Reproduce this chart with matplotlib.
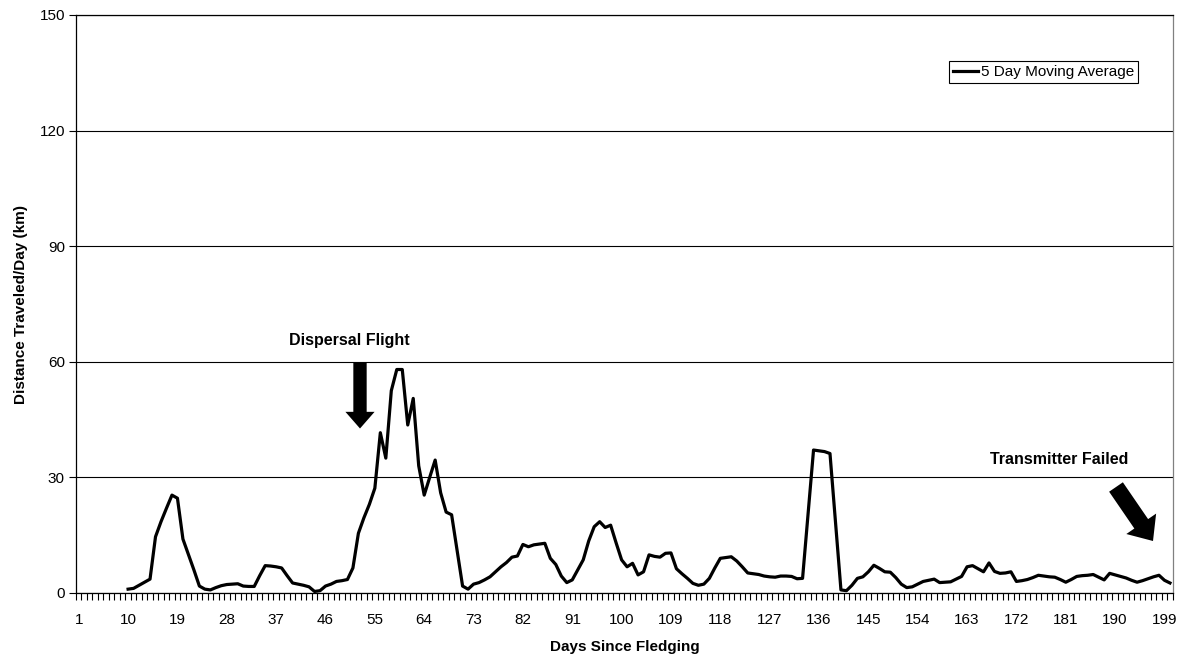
import numpy as np
import matplotlib
matplotlib.use("Agg")
import matplotlib.pyplot as plt

plt.rcParams['font.family'] = ['Liberation Sans', 'DejaVu Sans']

# ---- data ----
n_days = 200
start_day = 10
moving_avg = [
    1.0, 1.2, 2.0, 2.8, 3.6, 14.6, 18.5, 22.0, 25.4, 24.6,   # 10-19
    14.0, 10.0, 6.0, 1.8, 1.0, 0.8, 1.4, 1.9, 2.2, 2.3,      # 20-29
    2.4, 1.8, 1.7, 1.7, 4.5, 7.1, 7.0, 6.8, 6.5, 4.5,        # 30-39
    2.6, 2.3, 2.0, 1.6, 0.4, 0.6, 1.8, 2.3, 3.0, 3.2,        # 40-49
    3.5, 6.5, 15.5, 19.5, 23.0, 27.2, 41.6, 35.0, 52.5, 58.0,  # 50-59
    58.0, 43.6, 50.5, 33.0, 25.4, 30.0, 34.5, 26.0, 21.0, 20.3,  # 60-69
    11.0, 1.8, 1.0, 2.3, 2.7, 3.4, 4.2, 5.5, 6.8, 7.9,       # 70-79
    9.3, 9.6, 12.6, 12.0, 12.5, 12.7, 12.9, 9.0, 7.4, 4.4,   # 80-89
    2.7, 3.4, 6.0, 8.6, 13.5, 17.2, 18.5, 17.0, 17.6, 13.0,  # 90-99
    8.6, 6.8, 7.7, 4.7, 5.5, 9.9, 9.5, 9.3, 10.3, 10.4,      # 100-109
    6.3, 5.0, 3.8, 2.5, 2.0, 2.3, 3.8, 6.5, 9.0, 9.2,        # 110-119
    9.4, 8.3, 6.8, 5.2, 5.0, 4.8, 4.4, 4.2, 4.1, 4.4,        # 120-129
    4.4, 4.3, 3.7, 3.8, 20.4, 37.1, 36.9, 36.7, 36.2, 18.5,  # 130-139
    0.8, 0.6, 2.0, 3.8, 4.2, 5.5, 7.2, 6.4, 5.5, 5.4,        # 140-149
    4.0, 2.3, 1.4, 1.6, 2.3, 3.0, 3.3, 3.6, 2.7, 2.8,        # 150-159
    2.9, 3.6, 4.3, 6.8, 7.1, 6.3, 5.5, 7.8, 5.6, 5.1,        # 160-169
    5.2, 5.5, 3.0, 3.2, 3.5, 4.0, 4.6, 4.4, 4.2, 4.1,        # 170-179
    3.5, 2.8, 3.5, 4.3, 4.5, 4.6, 4.8, 4.1, 3.4, 5.1,        # 180-189
    4.7, 4.3, 3.9, 3.3, 2.8, 3.2, 3.7, 4.2, 4.6, 3.3,        # 190-199
    2.6,                                                       # 200
]
days = list(range(start_day, start_day + len(moving_avg)))
x_tick_labels = list(range(1, n_days + 1, 9))
y_ticks = [0, 30, 60, 90, 120, 150]

# ---- figure ----
W, H = 1185, 660
fig = plt.figure(figsize=(W / 100, H / 100), dpi=100)
ax = fig.add_axes([76 / W, 1 - 593 / H, (1172.7 - 76) / W, (593 - 15) / H])

ax.plot(days, moving_avg, color='black', lw=2.3, solid_joinstyle='round',
        label='5 Day Moving Average', zorder=3)

ax.set_xlim(0.5, n_days + 0.5)
ax.set_ylim(0, 150)
ax.set_yticks(y_ticks)
ax.set_yticklabels([str(t) for t in y_ticks], fontsize=11)
ax.yaxis.grid(True, color='black', lw=0.8)
ax.set_axisbelow(True)

ax.set_xticks(x_tick_labels)
ax.set_xticklabels([str(t) for t in x_tick_labels], fontsize=11)
ax.set_xticks(np.arange(0.5, n_days + 1, 1), minor=True)
ax.tick_params(axis='x', which='major', length=0, pad=14.5)
ax.tick_params(axis='x', which='minor', length=5, width=0.8, direction='out')
ax.tick_params(axis='y', which='major', length=5, width=0.8, direction='out', pad=3)

for s in ['left', 'bottom', 'top']:
    ax.spines[s].set_color('black')
    ax.spines[s].set_linewidth(0.9)
ax.spines['right'].set_color('#808080')
ax.spines['right'].set_linewidth(0.9)

ax.set_xlabel('Days Since Fledging', fontsize=11, fontweight='bold', labelpad=9)
ax.set_ylabel('Distance Traveled/Day (km)', fontsize=11, fontweight='bold', labelpad=8)

# legend
leg = ax.legend(loc='center', bbox_to_anchor=(1043.5 / W, 1 - 72 / H),
                bbox_transform=fig.transFigure, fontsize=11, frameon=True,
                fancybox=False, edgecolor='black', framealpha=1,
                handlelength=1.6, handletextpad=0.2, borderpad=0.25,
                borderaxespad=0)
leg.get_frame().set_linewidth(0.8)

# annotations
fig.text(349 / W, 1 - 340 / H, 'Dispersal Flight', fontsize=11.5,
         fontweight='bold', ha='center', va='center')
ax.annotate('', xy=(360, H - 428.5), xytext=(360, H - 362.5),
            xycoords='figure pixels', textcoords='figure pixels',
            arrowprops=dict(arrowstyle='simple,head_length=12,head_width=21,tail_width=9.6',
                            mutation_scale=1, fc='black', ec='none',
                            shrinkA=0, shrinkB=0))

fig.text(1059 / W, 1 - 460 / H, 'Transmitter Failed', fontsize=11.5,
         fontweight='bold', ha='center', va='center')
ax.annotate('', xy=(1153, H - 541), xytext=(1116, H - 487),
            xycoords='figure pixels', textcoords='figure pixels',
            arrowprops=dict(arrowstyle='simple,head_length=15,head_width=26,tail_width=12',
                            mutation_scale=1, fc='black', ec='none',
                            shrinkA=0, shrinkB=0))

fig.savefig('out.png', dpi=100)
